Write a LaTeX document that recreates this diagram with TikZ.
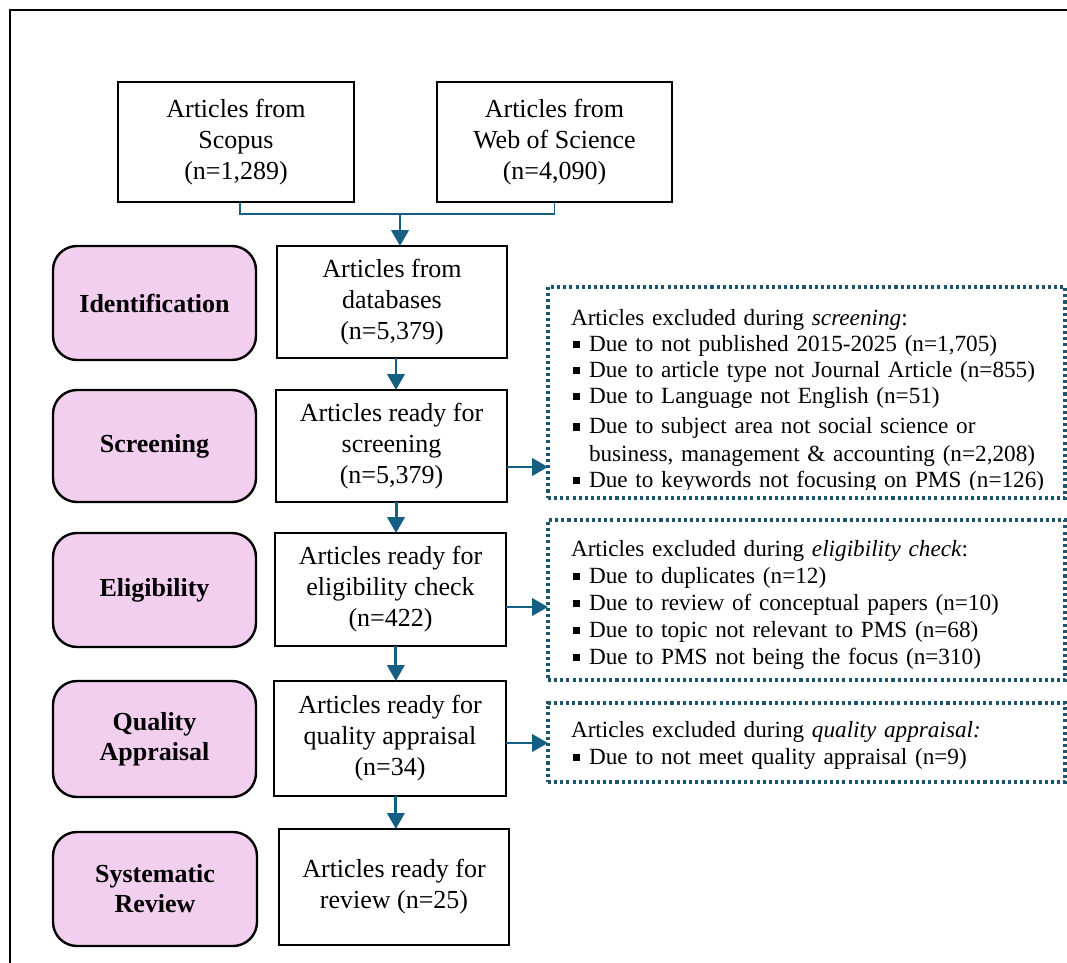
\documentclass[tikz,border=0pt]{standalone}
\usepackage{fontspec}
\setmainfont{Liberation Serif}
\usetikzlibrary{arrows.meta}
\definecolor{arrowc}{HTML}{156082}
\definecolor{dotc}{HTML}{1B5670}
\definecolor{stagefill}{HTML}{F2CEEF}
\newcommand{\sqbul}{\hspace*{1.5pt}\raisebox{2.25pt}{\rule{5.4pt}{5.4pt}}\hspace*{6.6pt}}
\newcommand{\contind}{\hspace*{13.5pt}}
\begin{document}
\begin{tikzpicture}[x=0.75pt,y=-0.75pt,
  every node/.style={inner sep=0pt,outer sep=0pt},
  mainbox/.style={draw=black,line width=1.6pt,align=center,font=\fontsize{19.5}{23.25}\selectfont},
  stagebox/.style={draw=black,fill=stagefill,line width=1.8pt,rounded corners=18pt,align=center,font=\fontsize{19.5}{22.5}\selectfont\bfseries},
  exclbox/.style={draw=dotc,line width=2.3pt,dash pattern=on 2.3pt off 2.3pt},
  excltext/.style={anchor=base west,align=left,text width=370pt,font=\fontsize{17.4}{19.5}\selectfont},
  flow/.style={draw=arrowc,line width=2.2pt,-{Triangle[width=13pt,length=12pt]}},
  bracket/.style={draw=arrowc,line width=1pt}]
\useasboundingbox (0,0) rectangle (1067,963);
% outer frame
\draw[line width=1.5pt] (10,990) -- (10,10) -- (1090,10);

% top sources
\node[mainbox,minimum width=177pt,minimum height=90pt] (scopus) at (236,142) {Articles from\\Scopus\\(n=1,289)};
\node[mainbox,minimum width=176.25pt,minimum height=90pt] (wos) at (554.5,142) {Articles from\\Web of Science\\(n=4,090)};

% main column
\node[mainbox,minimum width=172.5pt,minimum height=84pt] (db) at (392,302) {Articles from\\databases\\(n=5,379)};
\node[mainbox,minimum width=173.25pt,minimum height=84pt] (scr) at (391.5,446) {Articles ready for\\screening\\(n=5,379)};
\node[mainbox,minimum width=173.25pt,minimum height=84.75pt] (eli) at (390.5,589.5) {Articles ready for\\eligibility check\\(n=422)};
\node[mainbox,minimum width=174pt,minimum height=86.25pt] (qua) at (390,738.5) {Articles ready for\\quality appraisal\\(n=34)};
\node[mainbox,minimum width=172.5pt,minimum height=87pt] (rev) at (394,887) {Articles ready for\\review (n=25)};

% stage labels
\node[stagebox,minimum width=152.25pt,minimum height=85.5pt] (sIdent) at (154.5,303) {Identification};
\node[stagebox,minimum width=152.25pt,minimum height=84pt] (sScr) at (154.5,446) {Screening};
\node[stagebox,minimum width=152.25pt,minimum height=85.5pt] (sEli) at (154.5,590) {Eligibility};
\node[stagebox,minimum width=152.25pt,minimum height=87pt] (sQua) at (154.5,739) {Quality\\Appraisal};
\node[stagebox,minimum width=153pt,minimum height=85.5pt] (sSys) at (155,889) {Systematic\\Review};

% exclusion boxes
\begin{scope}
\clip (548,287) rectangle (1065,489);
\node[excltext] (t1) at (571,325) {Articles excluded during \textit{screening}:\\
\sqbul Due to not published 2015-2025 (n=1,705)\\
\sqbul Due to article type not Journal Article (n=855)\\
\sqbul Due to Language not English (n=51)\\[3.5pt]
\sqbul Due to subject area not social science or\\[1pt]
\contind business, management \& accounting (n=2,208)\\
\sqbul Due to keywords not focusing on PMS (n=126)};
\end{scope}
\node[exclbox,minimum width=387.75pt,minimum height=158.25pt] (e1) at (806.5,392.5) {};

\node[excltext] (t2) at (571,556) {Articles excluded during \textit{eligibility check}:\\[0.75pt]
\sqbul Due to duplicates (n=12)\\[0.75pt]
\sqbul Due to review of conceptual papers (n=10)\\[0.75pt]
\sqbul Due to topic not relevant to PMS (n=68)\\[0.75pt]
\sqbul Due to PMS not being the focus (n=310)};
\node[exclbox,minimum width=387.75pt,minimum height=120pt] (e2) at (806.5,600) {};

\node[excltext] (t3) at (571,737) {Articles excluded during \textit{quality appraisal:}\\[0.75pt]
\sqbul Due to not meet quality appraisal (n=9)};
\node[exclbox,minimum width=387.75pt,minimum height=59.25pt] (e3) at (806.5,742.5) {};

% connectors
\coordinate (jn) at (400,214);
\draw[bracket] ([xshift=3pt]scopus.south) |- (jn) -| (wos.south);
\draw[flow] (jn) -- (jn |- db.north);
\draw[flow] ([xshift=3pt]db.south) -- ([xshift=3pt]db.south |- scr.north);
\draw[flow] ([xshift=3.4pt]scr.south) -- ([xshift=3.4pt]scr.south |- eli.north);
\draw[flow] ([xshift=4pt]eli.south) -- ([xshift=4pt]eli.south |- qua.north);
\draw[flow] ([xshift=4.4pt]qua.south) -- ([xshift=4.4pt]qua.south |- rev.north);
\draw[flow] (scr.east |- 0,467) -- (e1.west |- 0,467);
\draw[flow] (eli.east |- 0,607) -- (e2.west |- 0,607);
\draw[flow] (qua.east |- 0,743) -- (e3.west |- 0,743);
\end{tikzpicture}
\end{document}
